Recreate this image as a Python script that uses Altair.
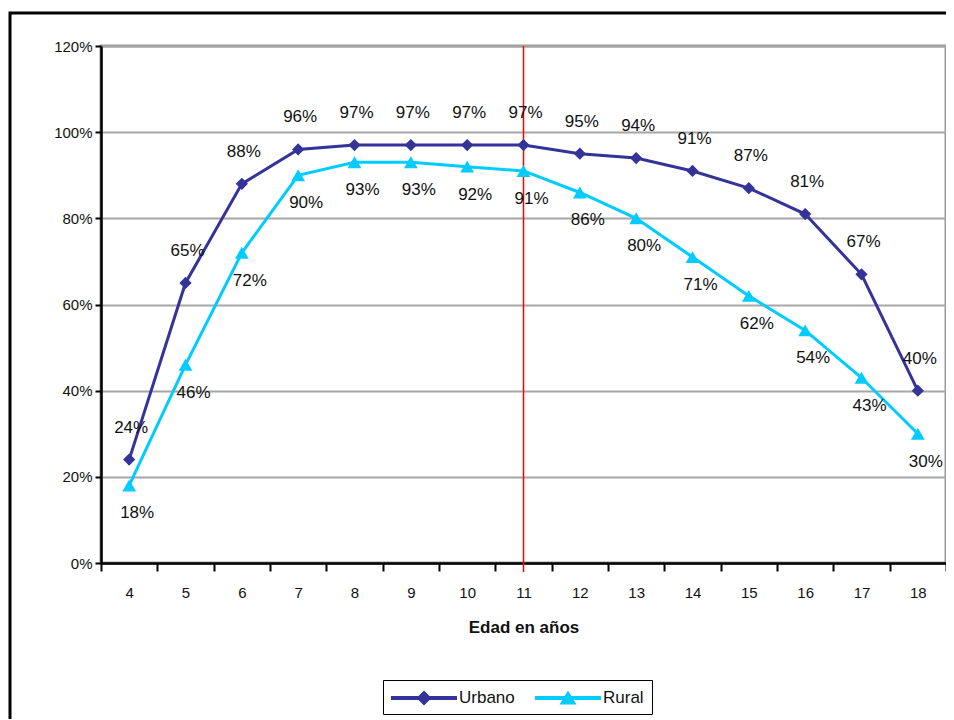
import altair as alt
import pandas as pd

ages = [4, 5, 6, 7, 8, 9, 10, 11, 12, 13, 14, 15, 16, 17, 18]
urbano = [24, 65, 88, 96, 97, 97, 97, 97, 95, 94, 91, 87, 81, 67, 40]
rural = [18, 46, 72, 90, 93, 93, 92, 91, 86, 80, 71, 62, 54, 43, 30]
series_names = ["Urbano", "Rural"]
series_colors = ["#333399", "#00CCFF"]
y_ticks = [0, 20, 40, 60, 80, 100, 120]
marker_age = [11]
x_title = "Edad en años"

rows = []
for s, vals in zip(series_names, [urbano, rural]):
    for a, v in zip(ages, vals):
        rows.append({"age": a, "value": v, "series": s, "label": f"{v}%"})
df = pd.DataFrame(rows)

W, H = 845, 517
FONT = "Liberation Sans"

x_scale = alt.Scale(type="band", domain=ages, paddingInner=0, paddingOuter=0)
y_scale = alt.Scale(domain=[0, 120], nice=False)

x_enc = alt.X(
    "age:O", scale=x_scale, title=x_title,
    axis=alt.Axis(tickBand="extent", labelAngle=0, tickSize=8, tickWidth=2, tickColor="black",
                  domainColor="black", domainWidth=2.5, labelPadding=14,
                  labelFont=FONT, labelFontSize=15, labelColor="#111111",
                  titleFont=FONT, titleFontSize=17, titleFontWeight="bold", titlePadding=19,
                  titleColor="#111111", grid=False),
)
y_enc = alt.Y(
    "value:Q", scale=y_scale, title=None,
    axis=alt.Axis(values=y_ticks, labelExpr="datum.value + '%'", tickSize=6, tickWidth=2,
                  tickColor="black", domainColor="black", domainWidth=2.5, labelPadding=3,
                  labelFont=FONT, labelFontSize=15, labelColor="#111111",
                  grid=True, gridColor="#A6A6A6", gridWidth=2),
)

color_cond = alt.condition(alt.datum.series == "Urbano", alt.value(series_colors[0]), alt.value(series_colors[1]))

base = alt.Chart(df)

lines = base.mark_line(strokeWidth=3).encode(x=x_enc, y=y_enc, detail="series:N", color=color_cond)

points = base.mark_point(filled=True, opacity=1).encode(
    x=alt.X("age:O", scale=x_scale),
    y=alt.Y("value:Q", scale=y_scale),
    color=color_cond,
    shape=alt.condition(alt.datum.series == "Urbano", alt.value("diamond"), alt.value("triangle-up")),
    size=alt.condition(alt.datum.series == "Urbano", alt.value(150), alt.value(190)),
)

text_u = base.transform_filter(alt.datum.series == "Urbano").mark_text(
    font=FONT, fontSize=17, color="#111111", dx=2, dy=-32
).encode(x=alt.X("age:O", scale=x_scale), y=alt.Y("value:Q", scale=y_scale), text="label:N")

text_r = base.transform_filter(alt.datum.series == "Rural").mark_text(
    font=FONT, fontSize=17, color="#111111", dx=8, dy=28
).encode(x=alt.X("age:O", scale=x_scale), y=alt.Y("value:Q", scale=y_scale), text="label:N")

rule = alt.Chart(pd.DataFrame({"age": marker_age})).mark_rule(color="#FF0000", strokeWidth=1.5).encode(
    x=alt.X("age:O", scale=x_scale), y=alt.value(0), y2=alt.value(H + 9)
)

path_u = "M-1,-0.2H5.6V0.2H-1Z M2.3,-0.75L3.05,0L2.3,0.75L1.55,0Z"
path_r = "M-1,-0.2H5.6V0.2H-1Z M2.3,-0.75L3.15,0.65L1.45,0.65Z"

leg = alt.Legend(orient="none", legendX=282, legendY=634, direction="horizontal", title=None,
                 symbolSize=400, symbolOpacity=1, symbolStrokeWidth=0, labelOffset=48,
                 columnPadding=20, padding=8, strokeColor="black",
                 labelFont=FONT, labelFontSize=17, labelColor="#111111")

legend_layer = base.mark_point(filled=True, opacity=0).encode(
    x=alt.X("age:O", scale=x_scale),
    y=alt.Y("value:Q", scale=y_scale),
    color=alt.Color("series:N", scale=alt.Scale(domain=series_names, range=series_colors), legend=leg),
    shape=alt.Shape("series:N", scale=alt.Scale(domain=series_names, range=[path_u, path_r]), legend=leg),
)

frame = alt.Chart(pd.DataFrame({"k": [0]})).mark_rect(fill=None, stroke="black", strokeWidth=3).encode(
    x=alt.value(-91), x2=alt.value(W + 40), y=alt.value(-33), y2=alt.value(H + 250)
)

chart = alt.layer(frame, lines, rule, points, text_u, text_r, legend_layer).properties(
    width=W, height=H,
    autosize=alt.AutoSizeParams(type="none"),
    padding={"left": 93, "top": 38, "right": 0, "bottom": 156},
).configure_view(stroke="#999999", strokeWidth=3)

chart.save("out.html", embed_options={"renderer": "svg", "actions": False})
